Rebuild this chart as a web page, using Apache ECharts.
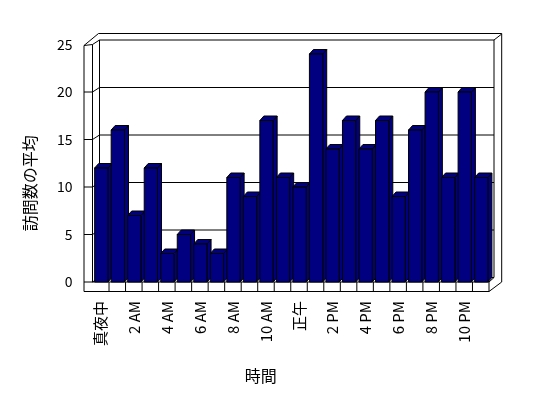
<!DOCTYPE html>
<html>
<head>
<meta charset="utf-8">
<script src="https://cdn.jsdelivr.net/npm/echarts@6/dist/echarts.min.js"></script>
<style>
html,body{margin:0;padding:0;background:#fff;}
#chart{width:548px;height:398px;}
</style>
</head>
<body>
<div id="chart"></div>
<script>
const categories = ['真夜中','1 AM','2 AM','3 AM','4 AM','5 AM','6 AM','7 AM','8 AM','9 AM','10 AM','11 AM',
  '正午','1 PM','2 PM','3 PM','4 PM','5 PM','6 PM','7 PM','8 PM','9 PM','10 PM','11 PM'];
const visits = [12,16,7,12,3,5,4,3,11,9,17,11,10,24,14,17,14,17,9,16,20,11,20,11];
const yMin = 0, yMax = 25, yStep = 5;
const yTitle = '訪問数の平均';
const xTitle = '時間';

const FONT = 'Noto Sans CJK JP';
const chart = echarts.init(document.getElementById('chart'), null, {renderer:'canvas'});

function line(x1,y1,x2,y2){
  return {type:'line', shape:{x1:x1,y1:y1,x2:x2,y2:y2}, style:{stroke:'#000', lineWidth:1}, silent:true};
}

function renderWalls(params, api){
  const cs = params.coordSys;
  const L = cs.x, T = cs.y, R = cs.x + cs.width, B = cs.y + cs.height;
  const dx = 7, dy = -4.5;
  const bl = L + dx, br = R + 5, bt = T + dy, bb = B + dy;
  const OL = L - 8.5, OT = bt - 6.5, OR = R + 12.7, FB = B + 9.5;
  const bw = api.size([1,0])[0];
  const ch = [];
  ch.push({type:'polygon', shape:{points:[[OL,T+1],[bl-1,OT],[OR,OT],[OR,B],[R,FB],[OL,FB]]}, style:{fill:'#fff'}, silent:true});
  // left wall
  ch.push(line(OL,T+1,OL,FB));
  ch.push(line(L,T,L,B));
  ch.push(line(bl,bt,bl,bb));
  ch.push(line(OL,T+1,bl-1,OT));
  ch.push(line(L,T,bl,bt));
  ch.push(line(OL,T+1,L,T));
  // back wall
  ch.push(line(bl-1,OT,OR,OT));
  ch.push(line(bl,bt,br,bt));
  ch.push(line(OR,OT,OR,B));
  ch.push(line(br,bt,br,bb));
  ch.push(line(br,bt,OR,OT+0.5));
  // gridlines
  for (let v = yMin + yStep; v < yMax; v += yStep){
    const y = api.coord([0, v])[1];
    ch.push(line(bl, y + dy, br, y + dy));
    ch.push(line(L, y, bl, y + dy));
    ch.push(line(OL, y, L, y));
  }
  // floor
  ch.push(line(bl,bb,br,bb));
  ch.push(line(L,B,bl,bb));
  ch.push(line(OL,B,R,B));
  ch.push(line(OL,FB,R,FB));
  ch.push(line(R,B,R,FB));
  ch.push(line(R,FB,OR,B));
  ch.push(line(R,B,br,bb));
  for (let i = 1; i < categories.length; i++){
    const x = L + i * bw;
    ch.push(line(x,B,x,FB));
  }
  return {type:'group', children:ch};
}

function renderBar(params, api){
  const idx = api.value(0), v = api.value(1);
  const base = api.coord([idx, 0]);
  const top = api.coord([idx, v]);
  const bw = api.size([1,0])[0];
  const w = bw * 0.805;
  const x0 = base[0] - bw/2 + bw * 0.13;
  const yb = base[1], yt = top[1];
  const dx = 4, dy = -4.5;
  const st = {fill:'#000080', stroke:'#000', lineWidth:1};
  return {type:'group', children:[
    {type:'polygon', shape:{points:[[x0+w,yt],[x0+w+dx,yt+dy],[x0+w+dx,yb+dy],[x0+w,yb]]}, style:st},
    {type:'polygon', shape:{points:[[x0,yt],[x0+w,yt],[x0+w+dx,yt+dy],[x0+dx,yt+dy]]}, style:st},
    {type:'rect', shape:{x:x0, y:yt, width:w, height:yb-yt}, style:st}
  ]};
}

chart.setOption({
  backgroundColor:'#fff',
  animation:false,
  grid:{left:92.5, top:44.5, width:396.5, height:237.5, containLabel:false},
  xAxis:{
    type:'category', data:categories, boundaryGap:true,
    axisLine:{show:false}, axisTick:{show:false}, splitLine:{show:false},
    axisLabel:{interval:1, rotate:90, margin:19, fontSize:15, color:'#000', fontFamily:FONT},
    name:xTitle, nameLocation:'middle', nameGap:86,
    nameTextStyle:{fontSize:16, color:'#000', fontFamily:FONT, padding:[0,60,0,0]}
  },
  yAxis:{
    type:'value', min:yMin, max:yMax, interval:yStep,
    axisLine:{show:false}, axisTick:{show:false}, splitLine:{show:false},
    axisLabel:{margin:20, fontSize:14, color:'#000', fontFamily:FONT},
    name:yTitle, nameLocation:'middle', nameGap:55,
    nameTextStyle:{fontSize:16, color:'#000', fontFamily:FONT, padding:[0,40,0,0]}
  },
  series:[
    {type:'custom', name:'walls', renderItem:renderWalls, data:[[0,0]], z:1, clip:false, silent:true},
    {type:'custom', name:'訪問数の平均', renderItem:renderBar, z:2, clip:false,
     data:visits.map((v,i)=>[i,v]), encode:{x:0,y:1}}
  ]
});
</script>
</body>
</html>
